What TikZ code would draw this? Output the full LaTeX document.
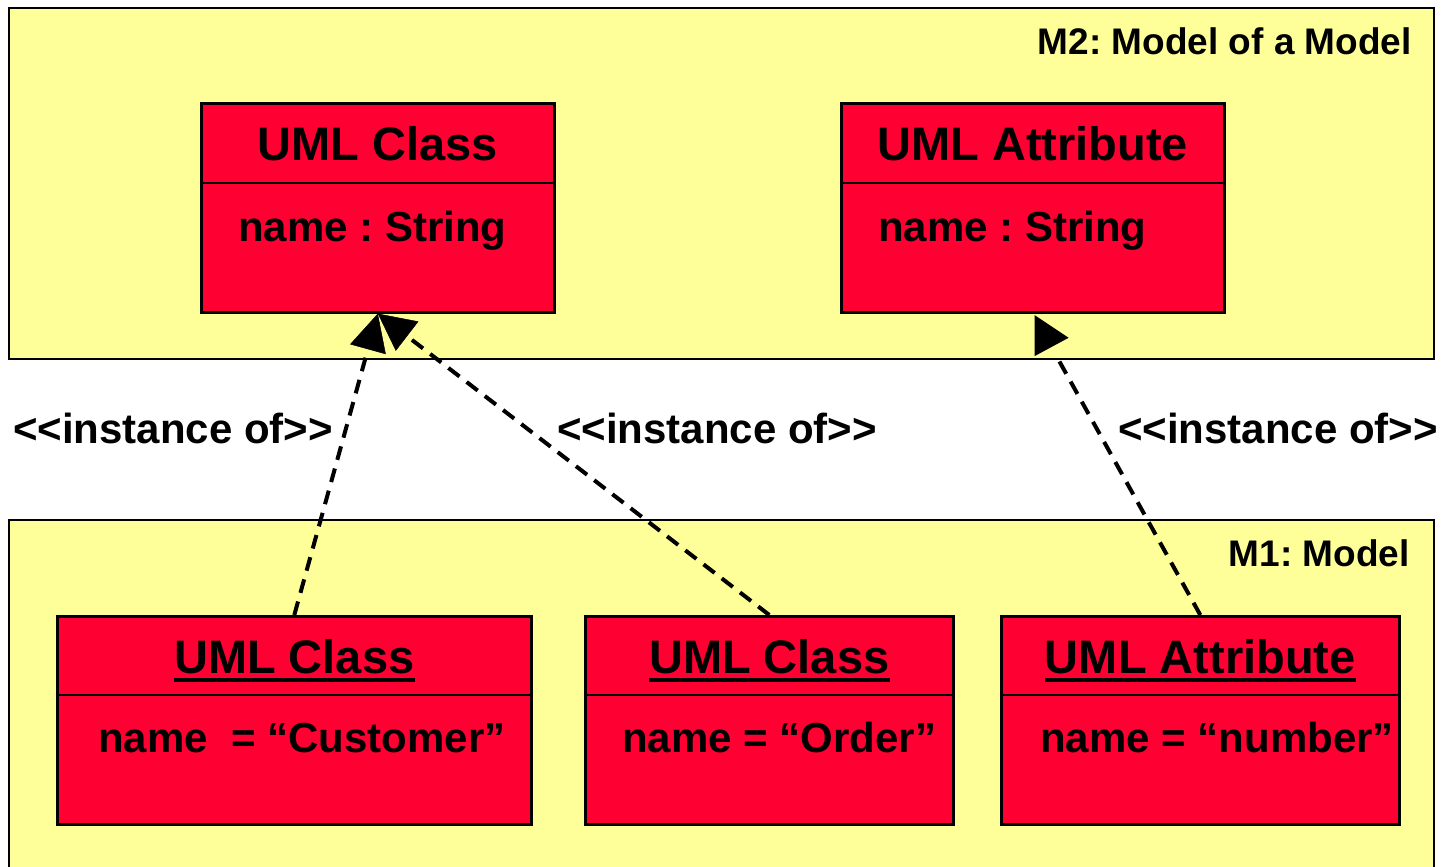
\documentclass[tikz,border=0pt]{standalone}
\usepackage{fontspec}
\setmainfont{Liberation Sans}
\usetikzlibrary{arrows.meta,calc}
\definecolor{pkgyellow}{RGB}{255,255,153}
\definecolor{umlred}{RGB}{255,0,51}
\frenchspacing
\newcommand{\stereotxt}[1]{<{}<#1>{}>}
\tikzset{
  frame/.style={draw, fill=pkgyellow, line width=2.2pt, inner sep=0pt, anchor=north west},
  classbox/.style={draw, fill=umlred, line width=2.6pt, inner sep=0pt, anchor=north west},
  divider/.style={line width=2.6pt},
  headtext/.style={font=\fontsize{47}{50}\selectfont\bfseries, inner sep=0pt, anchor=base},
  bodytext/.style={font=\fontsize{42}{46}\selectfont\bfseries, inner sep=0pt, anchor=base west},
  frametitle/.style={font=\fontsize{37}{40}\selectfont\bfseries, inner sep=0pt, anchor=base east},
  stereo/.style={font=\fontsize{42}{46}\selectfont\bfseries, inner sep=0pt, anchor=base west},
  ulrule/.style={line width=4pt},
  instof/.style={line width=4pt, dash pattern=on 14pt off 9pt},
  bigtip/.style={-{Triangle[length=37pt,width=37pt,line width=0.5pt]}},
}
\begin{document}
\begin{tikzpicture}[x=1pt,y=-1pt]
\useasboundingbox (0,0) rectangle (1443,867);
\clip (0,0) rectangle (1443,867);

% package frames
\node[frame, minimum width=1425pt, minimum height=351pt] (m2) at (8,7) {};
\node[frame, minimum width=1425pt, minimum height=420pt] (m1) at (8,519) {};
\node[frametitle] (m2T) at (1412,55) {M2: Model of a Model};
\node[frametitle] (m1T) at (1410,566) {M1: Model};

% M2 classes
\node[classbox, minimum width=353pt, minimum height=209pt] (mcls) at (200,102) {};
\draw[divider] (mcls.west |- 0,183) -- (mcls.east |- 0,183);
\node[headtext] (mclsT) at (mcls.north |- 0,160) {UML Class};
\node[bodytext] (mclsA) at (238,241) {name : String};

\node[classbox, minimum width=383pt, minimum height=209pt] (attr) at (840,102) {};
\draw[divider] (attr.west |- 0,183) -- (attr.east |- 0,183);
\node[headtext] (attrT) at (attr.north |- 0,160) {UML Attribute};
\node[bodytext] (attrA) at (878,241) {name : String};

% M1 instances
\node[classbox, minimum width=474pt, minimum height=208pt] (cus) at (56,615) {};
\draw[divider] (cus.west |- 0,695) -- (cus.east |- 0,695);
\node[headtext] (cusT) at (cus.north |- 0,673) {UML Class};
\draw[ulrule] ([yshift=-7pt]cusT.base west) -- ([yshift=-7pt]cusT.base east);
\node[bodytext] (cusA) at (98,752) {name\ \ = “Customer”};

\node[classbox, minimum width=368pt, minimum height=208pt] (ord) at (584,615) {};
\draw[divider] (ord.west |- 0,695) -- (ord.east |- 0,695);
\node[headtext] (ordT) at (ord.north |- 0,673) {UML Class};
\draw[ulrule] ([yshift=-7pt]ordT.base west) -- ([yshift=-7pt]ordT.base east);
\node[bodytext] (ordA) at (622,752) {name = “Order”};

\node[classbox, minimum width=398pt, minimum height=208pt] (num) at (1000,615) {};
\draw[divider] (num.west |- 0,695) -- (num.east |- 0,695);
\node[headtext] (numT) at (num.north |- 0,673) {UML Attribute};
\draw[ulrule] ([yshift=-7pt]numT.base west) -- ([yshift=-7pt]numT.base east);
\node[bodytext] (numA) at (1040,752) {name = “number”};

% instance-of dependencies
\draw[instof, bigtip] (cus.north) -- (mcls.south);
\draw[instof, bigtip] (ord.north) -- (mcls.south);
\coordinate (numEnd) at ($(attr.south)!48pt!(num.north)$);
\draw[instof] (num.north) -- (numEnd);
\fill ([shift={(1.8,1.5)}]attr.south) -- ++(0,41) -- ++(34,-18.3) -- cycle;

% stereotype labels
\node[stereo] (lab1) at (13,443) {\stereotxt{instance of}};
\node[stereo] (lab2) at (557,443) {\stereotxt{instance of}};
\node[stereo] (lab3) at (1118,443) {\stereotxt{instance of}};
\end{tikzpicture}
\end{document}
